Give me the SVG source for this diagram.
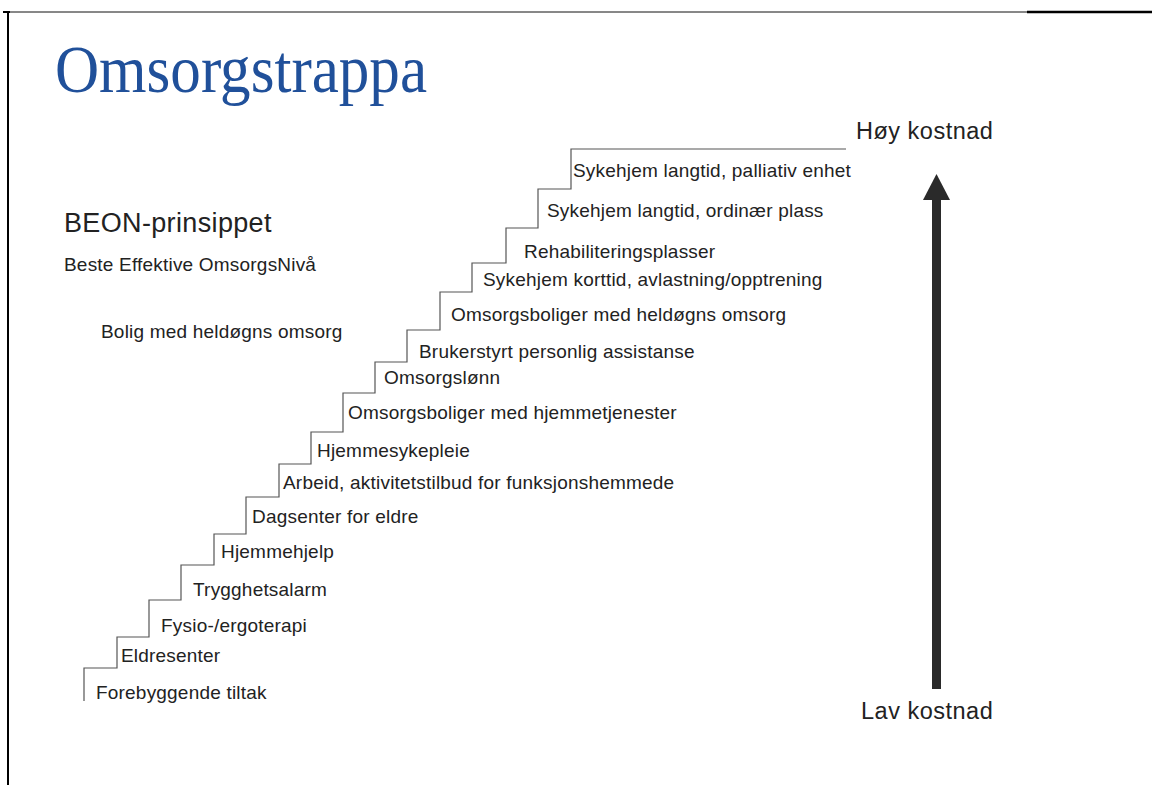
<svg xmlns="http://www.w3.org/2000/svg" width="1152" height="785" viewBox="0 0 1152 785">
<style>
  .lbl { font-family: "Liberation Sans", Arial, sans-serif; font-size: 19px; fill: #222; letter-spacing: 0.2px; }
  .big { font-family: "Liberation Sans", Arial, sans-serif; font-size: 23.5px; fill: #222; letter-spacing: 0.5px; }
  .title { font-family: "Liberation Serif", "Times New Roman", serif; font-size: 68px; fill: #20509a; }
  .stair { fill: none; stroke: #555; stroke-width: 1.2; }
</style>
<rect width="1152" height="785" fill="#fff"/>
<g id="frame">
  <line x1="3" y1="12" x2="1027" y2="12" stroke="#111" stroke-width="1"/>
  <line x1="1027" y1="12" x2="1152" y2="12" stroke="#000" stroke-width="2.5"/>
  <line x1="3" y1="12" x2="10" y2="12" stroke="#000" stroke-width="2"/>
  <line x1="8" y1="12" x2="8" y2="785" stroke="#000" stroke-width="2"/>
</g>
<g id="title"><text class="title" x="55" y="92" textLength="372" lengthAdjust="spacingAndGlyphs">Omsorgstrappa</text></g>
<g id="beon"><text x="64" y="232" style="font-family:'Liberation Sans',Arial,sans-serif;font-size:27px;fill:#222;letter-spacing:0.35px">BEON-prinsippet</text></g>
<g id="beon-sub"><text class="lbl" x="64" y="271">Beste Effektive OmsorgsNivå</text></g>
<g id="bolig"><text class="lbl" x="101" y="338">Bolig med heldøgns omsorg</text></g>
<g id="connectors">
  <polyline class="stair" points="84,701 84,668 117,668 117,637 149,637 149,600 181,600 181,565 214,565 214,534 246,534 246,497 279,497 279,464 311,464 311,432 343,432 343,393 375,393 375,362 407,362 407,330 440,330 440,292 472,292 472,263 506,263 506,228 538,228 538,189 571,189 571,149 846,149"/>
</g>
<g id="steps">
  <g id="s1"><text class="lbl" x="96" y="699">Forebyggende tiltak</text></g>
  <g id="s2"><text class="lbl" x="121" y="662">Eldresenter</text></g>
  <g id="s3"><text class="lbl" x="161" y="632">Fysio-/ergoterapi</text></g>
  <g id="s4"><text class="lbl" x="193" y="596">Trygghetsalarm</text></g>
  <g id="s5"><text class="lbl" x="221" y="558">Hjemmehjelp</text></g>
  <g id="s6"><text class="lbl" x="252" y="523">Dagsenter for eldre</text></g>
  <g id="s7"><text class="lbl" x="283" y="489">Arbeid, aktivitetstilbud for funksjonshemmede</text></g>
  <g id="s8"><text class="lbl" x="317" y="457">Hjemmesykepleie</text></g>
  <g id="s9"><text class="lbl" x="348" y="419">Omsorgsboliger med hjemmetjenester</text></g>
  <g id="s10"><text class="lbl" x="384" y="384">Omsorgslønn</text></g>
  <g id="s11"><text class="lbl" x="419" y="358">Brukerstyrt personlig assistanse</text></g>
  <g id="s12"><text class="lbl" x="451" y="321">Omsorgsboliger med heldøgns omsorg</text></g>
  <g id="s13"><text class="lbl" x="483" y="286">Sykehjem korttid, avlastning/opptrening</text></g>
  <g id="s14"><text class="lbl" x="524" y="258">Rehabiliteringsplasser</text></g>
  <g id="s15"><text class="lbl" x="547" y="217">Sykehjem langtid, ordinær plass</text></g>
  <g id="s16"><text class="lbl" x="573" y="177">Sykehjem langtid, palliativ enhet</text></g>
</g>
<g id="high"><text class="big" x="856" y="139">Høy kostnad</text></g>
<g id="low"><text class="big" x="861" y="719">Lav kostnad</text></g>
<g id="arrow">
  <rect x="932" y="198" width="9" height="491" fill="#2a2a2a"/>
  <polygon points="936.5,174 923,200 950,200" fill="#2a2a2a"/>
</g>
</svg>
